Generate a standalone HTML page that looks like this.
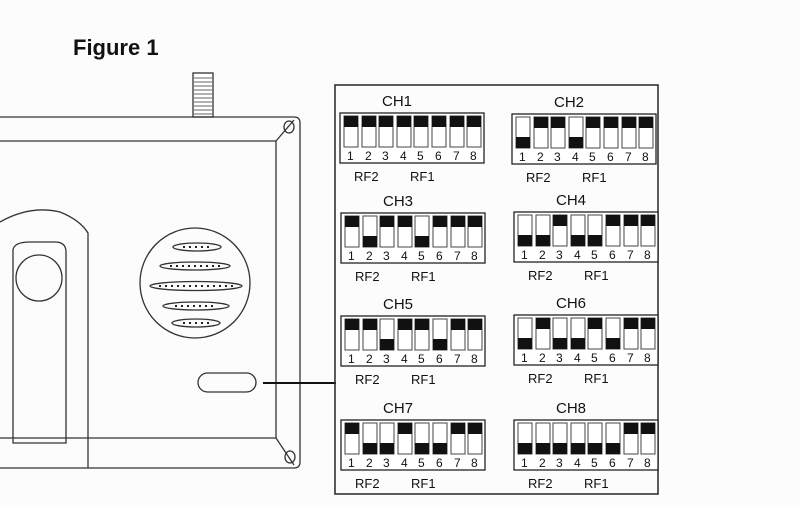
<!DOCTYPE html>
<html><head><style>
html,body{margin:0;padding:0;background:#fff;}
svg{display:block;}
text{font-family:"Liberation Sans",sans-serif;fill:#111;}
</style></head><body>
<svg width="800" height="505" viewBox="0 0 800 505" xmlns="http://www.w3.org/2000/svg">
<defs>
 <g id="u"><rect x="0" y="3" width="14" height="31" fill="#fff" stroke="#444" stroke-width="1"/><rect x="0" y="3" width="14" height="11" fill="#111"/></g>
 <g id="d"><rect x="0" y="3" width="14" height="31" fill="#fff" stroke="#444" stroke-width="1"/><rect x="0" y="23" width="14" height="11" fill="#111"/></g>
 <g id="frame">
  <rect x="0" y="0" width="144" height="50" fill="#fff" stroke="#222" stroke-width="1.3"/>
  <g font-size="12"><text x="7" y="47">1</text><text x="25" y="47">2</text><text x="42" y="47">3</text><text x="60" y="47">4</text><text x="77" y="47">5</text><text x="95" y="47">6</text><text x="113" y="47">7</text><text x="130" y="47">8</text></g>
  <g font-size="13"><text x="14" y="68">RF2</text><text x="70" y="68">RF1</text></g>
 </g>
</defs>
<rect width="800" height="505" fill="#fcfcfc"/>
<text x="73" y="55" font-size="22" font-weight="bold" fill="#333">Figure 1</text>
<g fill="none" stroke="#333" stroke-width="1.3">
 <rect x="193" y="73" width="20" height="44" fill="#fff"/>
 <g stroke-width="0.8"><path d="M194 78h18M194 82h18M194 86h18M194 90h18M194 94h18M194 98h18M194 102h18M194 106h18M194 110h18M194 114h18"/></g>
 <path d="M0 117 H294 Q300 117 300 123 V462 Q300 468 294 468 H0"/>
 <path d="M0 141 H276 V438 H0"/>
 <path d="M276 141 L294 120 M276 438 L294 465"/>
 <ellipse cx="289" cy="127" rx="5" ry="6"/>
 <ellipse cx="290" cy="457" rx="5" ry="6"/>
 <path d="M0 222 Q30 205 60 212 Q80 220 88 233 V468"/>
 <path d="M13 250 Q14 242 30 242 H55 Q66 242 66 252 V443 H13 Z"/>
 <circle cx="39" cy="278" r="23"/>
 <circle cx="195" cy="283" r="55"/>
 <ellipse cx="197" cy="247" rx="24" ry="4"/>
 <ellipse cx="195" cy="266" rx="35" ry="4"/>
 <ellipse cx="196" cy="286" rx="46" ry="4.5"/>
 <ellipse cx="196" cy="306" rx="33" ry="4"/>
 <ellipse cx="196" cy="323" rx="24" ry="4"/>
 <rect x="198" y="373" width="58" height="19" rx="9.5"/>
 <path d="M263 383 H336" stroke="#111" stroke-width="2"/>
 <rect x="335" y="85" width="323" height="409" stroke-width="1.6"/>
</g>
<path d="M183 247h28M170 266h50M159 286h74M175 306h42M183 323h28" stroke="#222" stroke-width="2" stroke-dasharray="2 4"/>

<g font-size="15">
 <text x="382" y="106">CH1</text><text x="554" y="107">CH2</text>
 <text x="383" y="206">CH3</text><text x="556" y="205">CH4</text>
 <text x="383" y="309">CH5</text><text x="556" y="308">CH6</text>
 <text x="383" y="413">CH7</text><text x="556" y="413">CH8</text>
</g>

<g transform="translate(340,113)"><use href="#frame"/>
 <use href="#u" x="4"/><use href="#u" x="22"/><use href="#u" x="39"/><use href="#u" x="57"/><use href="#u" x="74"/><use href="#u" x="92"/><use href="#u" x="110"/><use href="#u" x="127"/></g>
<g transform="translate(512,114)"><use href="#frame"/>
 <use href="#d" x="4"/><use href="#u" x="22"/><use href="#u" x="39"/><use href="#d" x="57"/><use href="#u" x="74"/><use href="#u" x="92"/><use href="#u" x="110"/><use href="#u" x="127"/></g>
<g transform="translate(341,213)"><use href="#frame"/>
 <use href="#u" x="4"/><use href="#d" x="22"/><use href="#u" x="39"/><use href="#u" x="57"/><use href="#d" x="74"/><use href="#u" x="92"/><use href="#u" x="110"/><use href="#u" x="127"/></g>
<g transform="translate(514,212)"><use href="#frame"/>
 <use href="#d" x="4"/><use href="#d" x="22"/><use href="#u" x="39"/><use href="#d" x="57"/><use href="#d" x="74"/><use href="#u" x="92"/><use href="#u" x="110"/><use href="#u" x="127"/></g>
<g transform="translate(341,316)"><use href="#frame"/>
 <use href="#u" x="4"/><use href="#u" x="22"/><use href="#d" x="39"/><use href="#u" x="57"/><use href="#u" x="74"/><use href="#d" x="92"/><use href="#u" x="110"/><use href="#u" x="127"/></g>
<g transform="translate(514,315)"><use href="#frame"/>
 <use href="#d" x="4"/><use href="#u" x="22"/><use href="#d" x="39"/><use href="#d" x="57"/><use href="#u" x="74"/><use href="#d" x="92"/><use href="#u" x="110"/><use href="#u" x="127"/></g>
<g transform="translate(341,420)"><use href="#frame"/>
 <use href="#u" x="4"/><use href="#d" x="22"/><use href="#d" x="39"/><use href="#u" x="57"/><use href="#d" x="74"/><use href="#d" x="92"/><use href="#u" x="110"/><use href="#u" x="127"/></g>
<g transform="translate(514,420)"><use href="#frame"/>
 <use href="#d" x="4"/><use href="#d" x="22"/><use href="#d" x="39"/><use href="#d" x="57"/><use href="#d" x="74"/><use href="#d" x="92"/><use href="#u" x="110"/><use href="#u" x="127"/></g>
</svg>
</body></html>
